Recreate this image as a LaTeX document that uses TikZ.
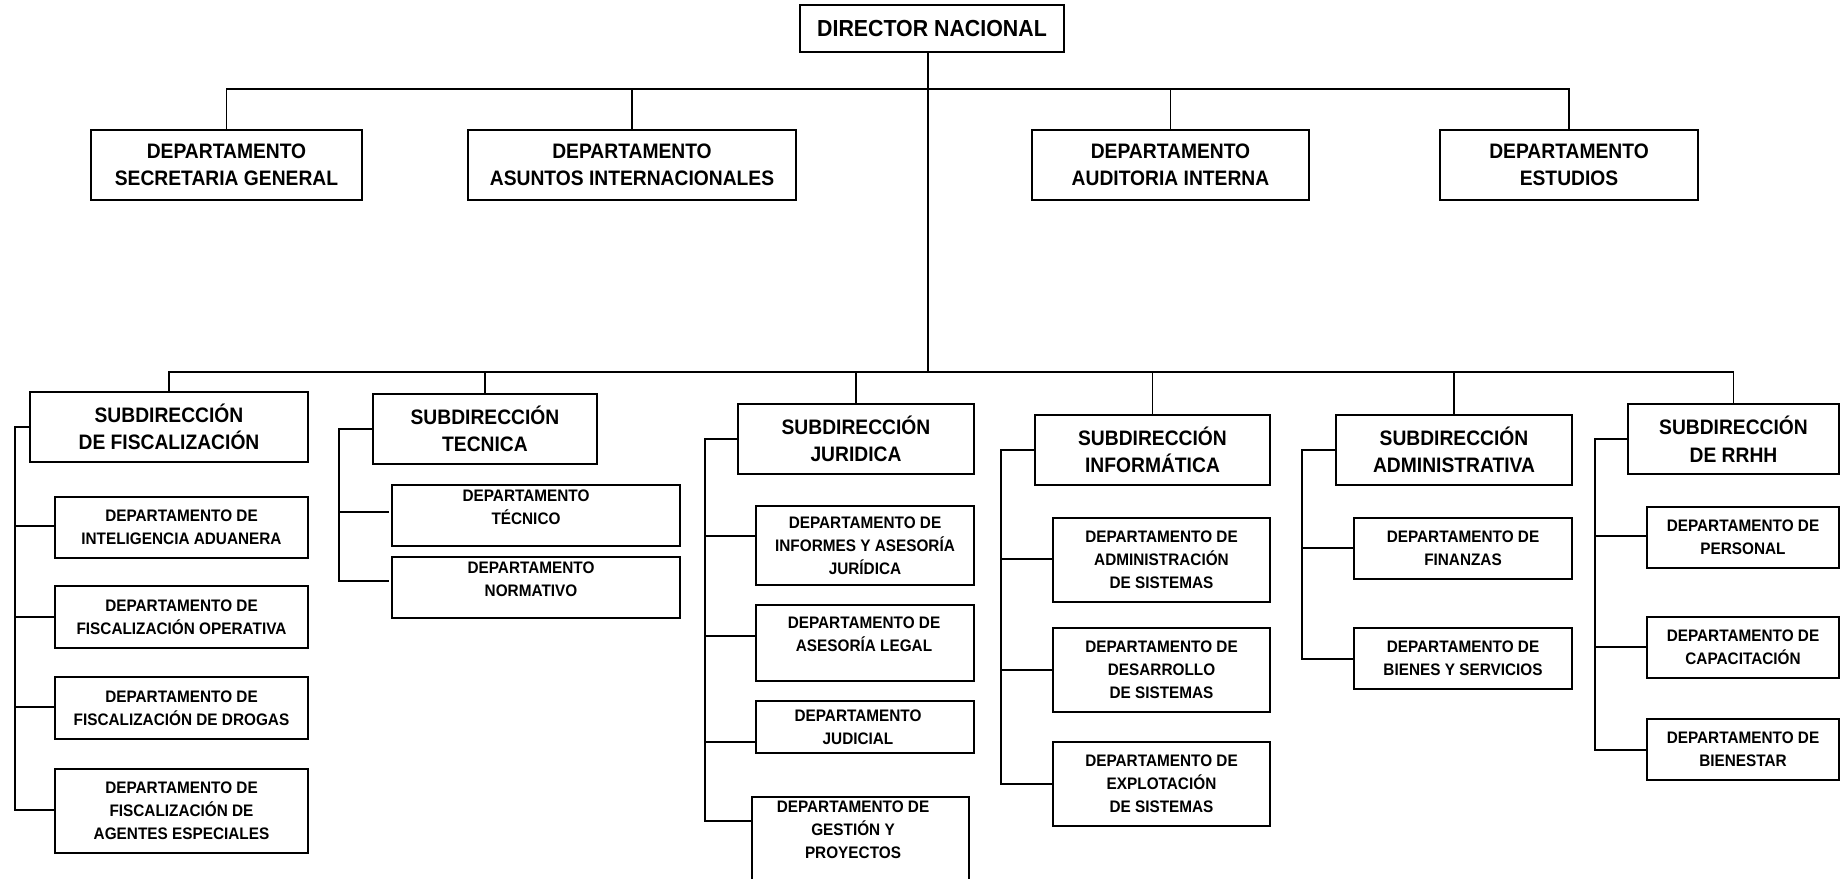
\documentclass[tikz,border=0pt]{standalone}
\usepackage{fontspec}
\setmainfont{Liberation Sans}[FakeStretch=0.92]
\tikzset{
  box/.style={draw, line width=1.25pt, inner sep=0pt, align=center, fill=white},
  dirtxt/.style={font=\fontsize{17.4pt}{22pt}\selectfont\bfseries},
  lvtxt/.style={font=\fontsize{15.7pt}{20.6pt}\selectfont\bfseries},
  chtxt/.style={font=\fontsize{12.5pt}{17.2pt}\selectfont\bfseries},
  plain/.style={inner sep=0pt, align=center},
  conn/.style={line width=1pt},
  thickconn/.style={line width=2pt},
}
% \bx{name}{style}{x1}{y1}{x2}{y2}{text}
\newcommand\bx[7]{\node[box,#2,minimum width={(#5-#3)*0.75pt},minimum height={(#6-#4)*0.75pt}] (#1) at ({(#3+#5)/2},{(#4+#6)/2}) {#7};}
\begin{document}
\begin{tikzpicture}[x=0.75pt,y=-0.75pt]
\useasboundingbox (0,0) rectangle (1841,878);
\fill[white] (0,0) rectangle (1841,878);

% ---------- boxes ----------
\bx{dir}{dirtxt}{800}{5}{1064}{52}{DIRECTOR NACIONAL}

\bx{d1}{lvtxt}{91}{130}{362}{200}{DEPARTAMENTO\\SECRETARIA GENERAL}
\bx{d2}{lvtxt}{468}{130}{796}{200}{DEPARTAMENTO\\ASUNTOS INTERNACIONALES}
\bx{d3}{lvtxt}{1032}{130}{1309}{200}{DEPARTAMENTO\\AUDITORIA INTERNA}
\bx{d4}{lvtxt}{1440}{130}{1698}{200}{DEPARTAMENTO\\ESTUDIOS}

\bx{sF}{lvtxt}{30}{392}{308}{462}{SUBDIRECCIÓN\\DE FISCALIZACIÓN}
\bx{sT}{lvtxt}{373}{394}{597}{464}{SUBDIRECCIÓN\\TECNICA}
\bx{sJ}{lvtxt}{738}{404}{974}{474}{SUBDIRECCIÓN\\JURIDICA}
\bx{sI}{lvtxt}{1035}{415}{1270}{485}{SUBDIRECCIÓN\\INFORMÁTICA}
\bx{sA}{lvtxt}{1336}{415}{1572}{485}{SUBDIRECCIÓN\\ADMINISTRATIVA}
\bx{sR}{lvtxt}{1628}{404}{1839}{474}{SUBDIRECCIÓN\\DE RRHH}

\bx{cF1}{chtxt}{55}{497}{308}{558}{DEPARTAMENTO DE\\INTELIGENCIA ADUANERA}
\bx{cF2}{chtxt}{55}{586}{308}{648}{DEPARTAMENTO DE\\FISCALIZACIÓN OPERATIVA}
\bx{cF3}{chtxt}{55}{677}{308}{739}{DEPARTAMENTO DE\\FISCALIZACIÓN DE DROGAS}
\bx{cF4}{chtxt}{55}{769}{308}{853}{DEPARTAMENTO DE\\FISCALIZACIÓN DE\\AGENTES ESPECIALES}

\bx{cT1}{chtxt}{392}{485}{680}{546}{}
\bx{cT2}{chtxt}{392}{557}{680}{618}{}
\node[plain,chtxt] (tT1) at (526,507) {DEPARTAMENTO\\TÉCNICO};
\node[plain,chtxt] (tT2) at (531,579) {DEPARTAMENTO\\NORMATIVO};

\bx{cJ1}{chtxt}{756}{506}{974}{585}{DEPARTAMENTO DE\\INFORMES Y ASESORÍA\\JURÍDICA}
\bx{cJ2}{chtxt}{756}{605}{974}{681}{}
\bx{cJ3}{chtxt}{756}{701}{974}{753}{}
\bx{cJ4}{chtxt}{752}{797}{969}{892}{}
\node[plain,chtxt] (tJ2) at (864,634) {DEPARTAMENTO DE\\ASESORÍA LEGAL};
\node[plain,chtxt] (tJ3) at (858,727) {DEPARTAMENTO\\JUDICIAL};
\node[plain,chtxt] (tJ4) at (853,830) {DEPARTAMENTO DE\\GESTIÓN Y\\PROYECTOS};

\bx{cI1}{chtxt}{1053}{518}{1270}{602}{DEPARTAMENTO DE\\ADMINISTRACIÓN\\DE SISTEMAS}
\bx{cI2}{chtxt}{1053}{628}{1270}{712}{DEPARTAMENTO DE\\DESARROLLO\\DE SISTEMAS}
\bx{cI3}{chtxt}{1053}{742}{1270}{826}{DEPARTAMENTO DE\\EXPLOTACIÓN\\DE SISTEMAS}

\bx{cA1}{chtxt}{1354}{518}{1572}{579}{DEPARTAMENTO DE\\FINANZAS}
\bx{cA2}{chtxt}{1354}{628}{1572}{689}{DEPARTAMENTO DE\\BIENES Y SERVICIOS}

\bx{cR1}{chtxt}{1647}{507}{1839}{568}{DEPARTAMENTO DE\\PERSONAL}
\bx{cR2}{chtxt}{1647}{617}{1839}{678}{DEPARTAMENTO DE\\CAPACITACIÓN}
\bx{cR3}{chtxt}{1647}{719}{1839}{780}{DEPARTAMENTO DE\\BIENESTAR}

% ---------- coordinates ----------
\coordinate (busA) at (928,89);
\coordinate (busB) at (928,372);
\coordinate (dirS) at (928,52);

\coordinate (bF1) at (15,526);  \coordinate (bF2) at (15,617);
\coordinate (bF3) at (15,707);  \coordinate (bF4) at (15,810);
\coordinate (bT1) at (339,512); \coordinate (bT2) at (339,581);
\coordinate (bJ1) at (705,536); \coordinate (bJ2) at (705,636);
\coordinate (bJ3) at (705,742); \coordinate (bJ4) at (705,821);
\coordinate (bI1) at (1001,559); \coordinate (bI2) at (1001,670);
\coordinate (bI3) at (1001,784);
\coordinate (bA1) at (1302,548); \coordinate (bA2) at (1302,659);
\coordinate (bR1) at (1595,536); \coordinate (bR2) at (1595,647);
\coordinate (bR3) at (1595,750);

% ---------- connectors ----------
\draw[conn] (dir.south -| dirS) -- (busB);
\foreach \n in {d1,d2,d3,d4}
  \draw[conn] (\n.north) -- (\n.north |- busA) -- (busA);
\foreach \n in {sF,sT,sJ,sI,sA,sR}
  \draw[conn] (\n.north) -- (\n.north |- busB) -- (busB);

\draw[thickconn] (sF.west) -| (bF3);
\foreach \c/\b in {cF1/bF1,cF2/bF2,cF3/bF3,cF4/bF4}
  \draw[conn] (sF.west) -| (\b) -- (\c.west |- \b);
\foreach \c/\b in {cT1/bT1,cT2/bT2}
  \draw[conn] (sT.west) -| (\b) -- ([xshift=-2pt]\c.west |- \b);
\foreach \c/\b in {cJ1/bJ1,cJ2/bJ2,cJ3/bJ3,cJ4/bJ4}
  \draw[conn] (sJ.west) -| (\b) -- (\c.west |- \b);
\foreach \c/\b in {cI1/bI1,cI2/bI2,cI3/bI3}
  \draw[conn] (sI.west) -| (\b) -- (\c.west |- \b);
\foreach \c/\b in {cA1/bA1,cA2/bA2}
  \draw[conn] (sA.west) -| (\b) -- (\c.west |- \b);
\foreach \c/\b in {cR1/bR1,cR2/bR2,cR3/bR3}
  \draw[conn] (sR.west) -| (\b) -- (\c.west |- \b);
\end{tikzpicture}
\end{document}
